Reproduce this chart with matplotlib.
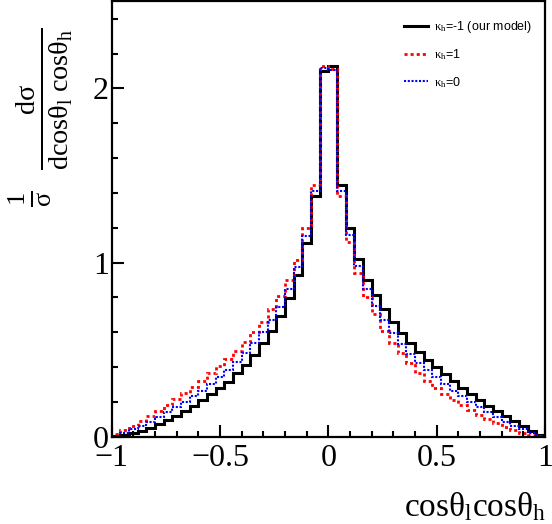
import numpy as np
import matplotlib
matplotlib.use('Agg')
import matplotlib.pyplot as plt
from matplotlib.ticker import MultipleLocator

plt.rcParams['mathtext.fontset'] = 'custom'
plt.rcParams['mathtext.rm'] = 'Liberation Serif'
plt.rcParams['mathtext.it'] = 'Liberation Serif:italic'

# 50 bins over cos(theta_l)cos(theta_h) in [-1, 1]
bin_lo, bin_hi, n_bins = -1.0, 1.0, 50

# kappa_h = -1 (our model)
kappa_m1 = [0.002, 0.008, 0.019, 0.033, 0.052, 0.071, 0.096, 0.121, 0.147, 0.178,
            0.211, 0.243, 0.280, 0.316, 0.364, 0.411, 0.469, 0.536, 0.606, 0.692,
            0.794, 0.928, 1.111, 1.385, 2.100, 2.128, 1.444, 1.197, 1.018, 0.899,
            0.811, 0.734, 0.660, 0.595, 0.540, 0.488, 0.442, 0.400, 0.360, 0.320,
            0.281, 0.245, 0.211, 0.178, 0.149, 0.121, 0.092, 0.063, 0.034, 0.010]
# kappa_h = 1
kappa_p1 = [0.014, 0.038, 0.063, 0.092, 0.121, 0.149, 0.182, 0.216, 0.249, 0.283,
            0.320, 0.364, 0.404, 0.444, 0.494, 0.545, 0.599, 0.660, 0.733, 0.809,
            0.899, 1.014, 1.196, 1.444, 2.130, 2.113, 1.381, 1.119, 0.941, 0.803,
            0.704, 0.608, 0.539, 0.478, 0.421, 0.367, 0.321, 0.278, 0.244, 0.211,
            0.180, 0.152, 0.126, 0.100, 0.076, 0.056, 0.037, 0.021, 0.009, 0.003]
# kappa_h = 0
kappa_0 = [0.004, 0.023, 0.042, 0.063, 0.086, 0.115, 0.143, 0.172, 0.201, 0.233,
           0.264, 0.302, 0.344, 0.383, 0.430, 0.482, 0.536, 0.602, 0.670, 0.746,
           0.851, 0.975, 1.154, 1.413, 2.115, 2.105, 1.410, 1.160, 0.979, 0.851,
           0.750, 0.670, 0.593, 0.532, 0.474, 0.425, 0.383, 0.341, 0.302, 0.264,
           0.233, 0.201, 0.172, 0.143, 0.115, 0.086, 0.063, 0.042, 0.023, 0.006]

labels = [r'$\mathrm{κ_{h}}$=-1 (our model)', r'$\mathrm{κ_{h}}$=1', r'$\mathrm{κ_{h}}$=0']

edges = np.linspace(bin_lo, bin_hi, n_bins + 1)

W, H = 552, 524
fig = plt.figure(figsize=(W / 100, H / 100), dpi=100)
ax = fig.add_axes([0.2024, 0.1666, 0.785, 0.8307])

ax.stairs(kappa_m1, edges, color='black', lw=2.2, label=labels[0])
ax.stairs(kappa_p1, edges, color='#ff0000', lw=2.0, linestyle=(0, (1.1, 1.1)), label=labels[1])
ax.stairs(kappa_0, edges, color='#0000ff', lw=1.5, linestyle=(0, (1, 0.8)), label=labels[2])

ax.set_xlim(-1, 1)
ax.set_ylim(0, 2.5)

ax.xaxis.set_minor_locator(MultipleLocator(0.1))
ax.yaxis.set_minor_locator(MultipleLocator(0.2))
ax.set_xticks([-1, -0.5, 0, 0.5, 1])
ax.set_xticklabels(['\u22121', '\u22120.5', '0', '0.5', '1'])
ax.set_yticks([0, 1, 2])
ax.set_yticklabels(['0', '1', '2'])

ax.tick_params(which='major', direction='in', length=8.5, width=1.5,
               labelsize=23, pad=5.5)
ax.tick_params(which='minor', direction='in', length=4.3, width=1.5)
ax.tick_params(axis='y', which='major', pad=2)
for lab in ax.get_xticklabels() + ax.get_yticklabels():
    lab.set_family('Liberation Serif')
for sp in ax.spines.values():
    sp.set_linewidth(1.6)

# axis titles
fig.text(546 / W, 1 - 507 / H, r'cos$\mathrm{θ_{l}}$cos$\mathrm{θ_{h}}$',
         family='Liberation Serif', fontsize=24, ha='right', va='center')
fig.text(44 / W, 1 - 99 / H,
         r'$\frac{\mathrm{dσ}}{\mathrm{dcosθ_{l}\ cosθ_{h}}}$',
         fontsize=29, rotation=90, ha='center', va='center')
fig.text(30 / W, 1 - 199 / H, r'$\frac{\mathrm{1}}{\mathrm{σ}}$',
         fontsize=27, rotation=90, ha='center', va='center')

ax.legend(loc='upper right', bbox_to_anchor=(1.0, 1.0 - 5 / 435), frameon=False,
          prop={'family': 'Liberation Sans', 'size': 9},
          handlelength=1.9, handletextpad=0.55, labelspacing=1.0,
          borderaxespad=0.6)

fig.savefig('out.png', dpi=100)
